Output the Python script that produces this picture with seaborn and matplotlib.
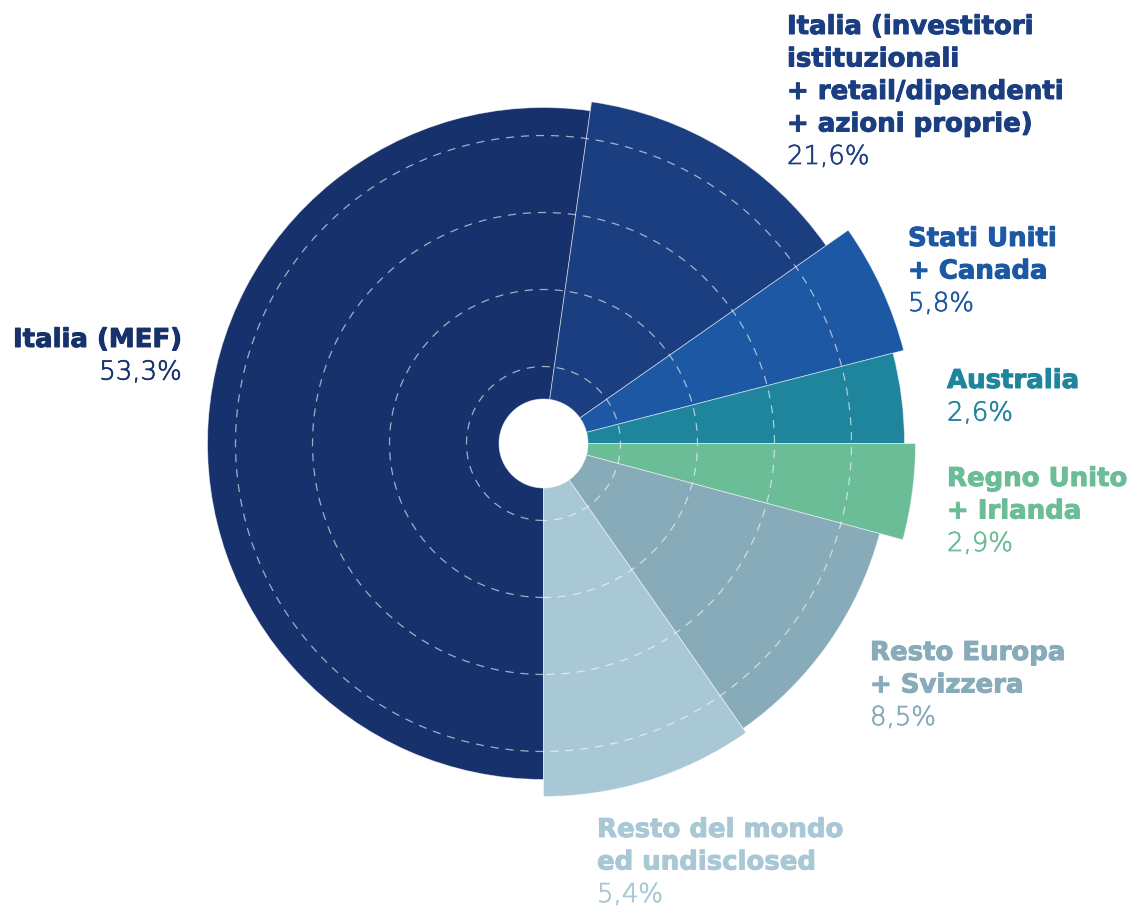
import matplotlib
matplotlib.use("Agg")
import matplotlib.pyplot as plt
import matplotlib.patheffects as pe
import numpy as np
import seaborn as sns

# shareholder groups, clockwise starting from the bottom
labels = [
    ["Italia (MEF)"],
    ["Italia (investitori", "istituzionali", "+ retail/dipendenti", "+ azioni proprie)"],
    ["Stati Uniti", "+ Canada"],
    ["Australia"],
    ["Regno Unito", "+ Irlanda"],
    ["Resto Europa", "+ Svizzera"],
    ["Resto del mondo", "ed undisclosed"],
]
shares = [53.3, 21.6, 5.8, 2.6, 2.9, 8.5, 5.4]
# angular sweep (deg) and outer radius of each wedge as drawn in the original
sweep_deg = [188, 47, 20.5, 14.5, 15, 40, 35]
radius = [336, 345, 372, 361, 372, 348, 353]
grid_r = [77, 154, 231, 308]

colors = ["#16316b", "#1a3e80", "#1c58a3", "#1f859d", "#6bbd97", "#87abb8", "#a9c8d5"]

W, H = 1133, 910
hole = 44.5
cx, cy = 543.5, 443.5
rmax = 380

sns.set_theme(style="white")
plt.rcParams["font.family"] = ["DejaVu Sans"]
palette = sns.color_palette(colors)

fig = plt.figure(figsize=(W / 100, H / 100), dpi=100)
ax = fig.add_axes(
    [(cx - rmax) / W, (H - cy - rmax) / H, 2 * rmax / W, 2 * rmax / H],
    projection="polar",
)
ax.set_theta_zero_location("S")
ax.set_theta_direction(-1)

widths = np.deg2rad(sweep_deg)
starts = np.concatenate([[0], np.cumsum(widths)[:-1]])
ax.bar(
    starts, np.array(radius) - hole, width=widths, bottom=hole, align="edge",
    color=palette, edgecolor=(1, 1, 1, 0.55), linewidth=0.6, zorder=2,
)

t = np.linspace(0, 2 * np.pi, 721)
for r in grid_r:
    ax.plot(t, np.full_like(t, r), color="white", alpha=0.6, lw=0.9,
            dashes=(6.5, 5.5), zorder=3)

ax.set_rlim(0, rmax)
ax.set_axis_off()


def px(x, y):
    return x / W, 1 - y / H


fs = 18.7
step = 32.5
# label anchor (x, first baseline y) in pixels, and alignment
anchors = [
    (182, 347, "right"),
    (787, 34, "left"),
    (908, 246, "left"),
    (947, 388, "left"),
    (947, 486, "left"),
    (870, 660, "left"),
    (597, 837, "left"),
]

for lines, val, col, (x, y, ha) in zip(labels, shares, colors, anchors):
    for i, line in enumerate(lines):
        fig.text(*px(x, y + i * step), line, ha=ha, va="baseline",
                 fontsize=fs, fontweight="bold", color=col,
                 path_effects=[pe.withStroke(linewidth=0.7, foreground=col)])
    pct = f"{val:.1f}%".replace(".", ",")
    fig.text(*px(x, y + len(lines) * step), pct, ha=ha, va="baseline",
             fontsize=fs, fontweight="light", color=col,
             path_effects=[pe.withStroke(linewidth=0.5, foreground=col)])

fig.savefig("out.png", dpi=100)
